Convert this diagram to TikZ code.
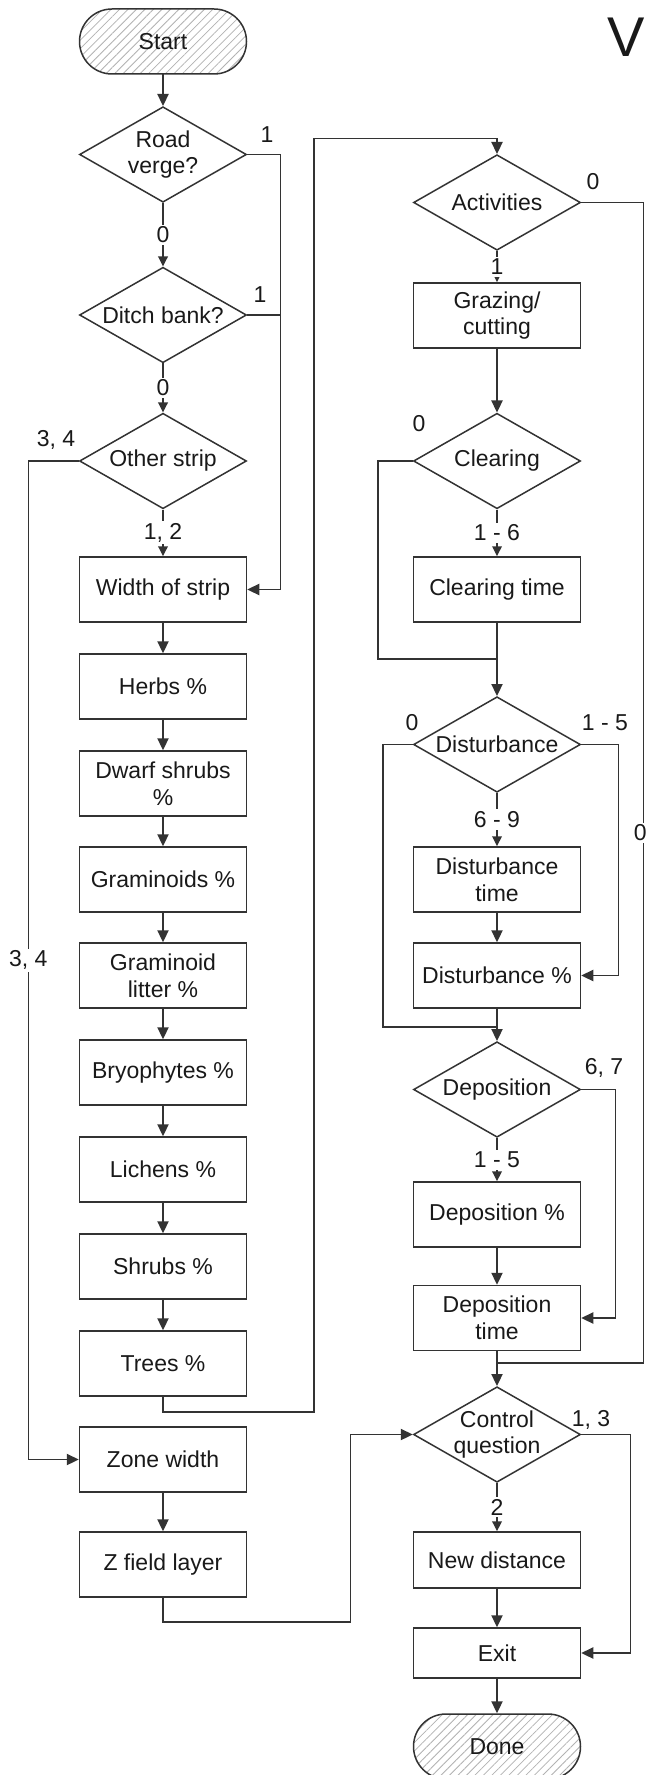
\documentclass[tikz,border=0pt]{standalone}
\usepackage{fontspec}
\setmainfont{Liberation Sans}
\usetikzlibrary{shapes.geometric,arrows.meta,patterns.meta}
\begin{document}
\begin{tikzpicture}[x=0.5pt,y=-0.5pt,
  font=\fontsize{11.5}{13.3}\selectfont,
  line/.style={draw=black!80, line width=0.75pt},
  arr/.style={line, -{Triangle[length=6pt,width=5.6pt]}},
  sarr/.style={line, -{Triangle[length=5pt,width=4.8pt]}},
  box/.style={draw=black!80, line width=0.75pt, rectangle, minimum width=83.5pt,
    minimum height=32.5pt, inner sep=1pt, align=center, text=black!90},
  dia/.style={draw=black!80, line width=0.75pt, diamond, aspect=1.74,
    minimum width=83.5pt, minimum height=47.75pt, inner sep=-1pt, align=center, text=black!90},
  term/.style={draw=black!80, line width=0.75pt, rectangle, rounded corners=16.25pt,
    minimum width=83.5pt, minimum height=32.5pt, text=black!90,
    pattern={Lines[angle=45,distance=3pt,line width=0.4pt]}, pattern color=black!30},
  lbl/.style={inner sep=1pt, text=black!90},
  onl/.style={lbl, fill=white},
]
\path[use as bounding box, fill=white] (0,0) rectangle (646,1775);

% heading letter at the top right
\node[anchor=base west, inner sep=0pt, font=\fontsize{28}{30}\selectfont, text=black!90] (vt) at (607,57) {V};

% left column
\node[term] (start) at (163,41.5) {Start};
\node[dia] (rv) at (163,154.5) {Road\\verge?};
\node[dia] (db) at (163,315) {Ditch bank?};
\node[dia] (os) at (163,461) {Other strip};
\node[box] (wos) at (163,589.5) {Width of strip};
\node[box] (herbs) at (163,686.5) {Herbs \%};
\node[box] (dwarf) at (163,783.5) {Dwarf shrubs\\\%};
\node[box] (gram) at (163,879.5) {Graminoids \%};
\node[box] (glit) at (163,975.5) {Graminoid\\litter \%};
\node[box] (bryo) at (163,1072.5) {Bryophytes \%};
\node[box] (lich) at (163,1169.5) {Lichens \%};
\node[box] (shrubs) at (163,1266.5) {Shrubs \%};
\node[box] (trees) at (163,1363.5) {Trees \%};
\node[box] (zw) at (163,1459.5) {Zone width};
\node[box] (zf) at (163,1564.5) {Z field layer};

% right column
\node[dia] (act) at (497,202.5) {Activities};
\node[box] (graz) at (497,315.5) {Grazing/\\cutting};
\node[dia] (clr) at (497,461) {Clearing};
\node[box] (clrt) at (497,589.5) {Clearing time};
\node[dia] (dist) at (497,744.5) {Disturbance};
\node[box] (dtime) at (497,879.5) {Disturbance\\time};
\node[box] (dpct) at (497,975.5) {Disturbance \%};
\node[dia] (dep) at (497,1089.5) {Deposition};
\node[box] (dpc) at (497,1214.5) {Deposition \%};
\node[box] (dtm) at (497,1318) {Deposition\\time};
\node[dia] (ctl) at (497,1434.5) {Control\\question};
\node[box, minimum height=28pt] (nd) at (497,1560) {New distance};
\node[box, minimum height=25pt] (exit) at (497,1653) {Exit};
\node[term] (done) at (497,1746.5) {Done};

% branch labels beside the decisions
\node[lbl] (l1a) at (267,135) {1};
\node[lbl] (l1b) at (260,295) {1};
\node[lbl] (l34a) at (56,440) {3, 4};
\node[lbl] (l0act) at (593,182) {0};
\node[lbl] (l0clr) at (419,424) {0};
\node[lbl] (l0dist) at (412,723) {0};
\node[lbl] (l15a) at (605,723) {1 - 5};
\node[lbl] (l67) at (604,1068) {6, 7};
\node[lbl] (l13) at (591,1420) {1, 3};

% left column flow
\draw[arr] (start) -- (rv);
\draw[sarr] (rv) -- node[onl] (l0a) {0} (db);
\draw[sarr] (db) -- node[onl] (l0b) {0} (os);
\draw[sarr] (os) -- node[onl] (l12) {1, 2} (wos);
\draw[arr] (rv.east) -- ++(33,0) |- (wos.east);
\draw[line] (db.east) -- ++(33,0);
\draw[arr] (os.west) -- ++(-50.5,0) coordinate (k1)
  -- node[onl] (l34b) {3, 4} (k1 |- zw.west) -- (zw.west);
\draw[arr] (wos) -- (herbs);
\draw[arr] (herbs) -- (dwarf);
\draw[arr] (dwarf) -- (gram);
\draw[arr] (gram) -- (glit);
\draw[arr] (glit) -- (bryo);
\draw[arr] (bryo) -- (lich);
\draw[arr] (lich) -- (shrubs);
\draw[arr] (shrubs) -- (trees);
\draw[arr] (trees.south) -- ++(0,15) -| ([xshift=-91.5pt,yshift=7.75pt]act.north) -| (act.north);
\draw[arr] (zw) -- (zf);
\draw[arr] (zf.south) -- ++(0,24) -| ([xshift=-31.25pt]ctl.west) -- (ctl.west);

% right column flow
\coordinate (j1) at (497,659);
\coordinate (j2) at (497,1027);
\coordinate (j3) at (497,1363);
\draw[sarr] (act) -- node[onl] (l1c) {1} (graz);
\draw[arr] (graz) -- (clr);
\draw[sarr] (clr) -- node[onl] (l16) {1 - 6} (clrt);
\draw[line] (clr.west) -- ++(-35,0) |- (j1);
\draw[arr] (clrt) -- (dist);
\draw[sarr] (dist) -- node[onl] (l69) {6 - 9} (dtime);
\draw[arr] (dtime) -- (dpct);
\draw[line] (dist.west) -- ++(-30,0) |- (j2);
\draw[arr] (dist.east) -- ++(37,0) |- (dpct.east);
\draw[arr] (dpct) -- (dep);
\draw[sarr] (dep) -- node[onl] (l15b) {1 - 5} (dpc);
\draw[arr] (dpc) -- (dtm);
\draw[arr] (dep.east) -- ++(34,0) |- (dtm.east);
\draw[arr] (dtm) -- (ctl);
\draw[line] (act.east) -- ++(62,0) coordinate (k3)
  -- node[onl, pos=0.543, xshift=-1.5pt] (l0r) {0} (k3 |- j3) -- (j3);
\draw[sarr] (ctl) -- node[onl] (l2) {2} (nd);
\draw[arr] (nd) -- (exit);
\draw[arr] (ctl.east) -- ++(49,0) |- (exit.east);
\draw[arr] (exit) -- (done);
\end{tikzpicture}
\end{document}
